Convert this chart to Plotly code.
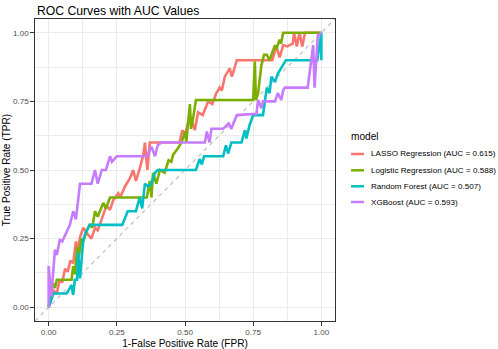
import plotly.graph_objects as go

# ---------------- data ----------------
model_names = [
    "LASSO Regression (AUC = 0.615)",
    "Logistic Regression (AUC = 0.588)",
    "Random Forest (AUC = 0.507)",
    "XGBoost (AUC = 0.593)",
]
model_colors = ["#F8766D", "#7CAE00", "#00BFC4", "#C77CFF"]

lasso_x = [0, 0.02, 0.03, 0.04, 0.05, 0.06, 0.07, 0.08, 0.09, 0.10, 0.105, 0.115, 0.127, 0.14,
           0.157, 0.17, 0.18, 0.194, 0.212, 0.225, 0.237, 0.255, 0.262, 0.28, 0.298, 0.31, 0.32,
           0.334, 0.347, 0.353, 0.362, 0.371, 0.48, 0.49, 0.50, 0.51, 0.518, 0.536, 0.548, 0.565,
           0.585, 0.60, 0.615, 0.627, 0.635, 0.646, 0.664, 0.672, 0.69, 0.82, 0.835, 0.847, 0.86,
           0.875, 0.895, 0.90, 0.91, 0.92, 0.93, 0.94, 1.0]
lasso_y = [0, 0.06, 0.05, 0.10, 0.09, 0.14, 0.13, 0.17, 0.16, 0.24, 0.20, 0.255, 0.29, 0.27,
           0.25, 0.29, 0.28, 0.32, 0.37, 0.355, 0.39, 0.415, 0.40, 0.44, 0.47, 0.50, 0.46,
           0.505, 0.555, 0.60, 0.50, 0.60, 0.60, 0.645, 0.63, 0.665, 0.70, 0.645, 0.71, 0.70,
           0.75, 0.74, 0.78, 0.80, 0.79, 0.84, 0.87, 0.84, 0.90, 0.90, 0.95, 0.91, 0.955,
           0.95, 0.96, 1.0, 0.95, 1.0, 0.95, 1.0, 1.0]

logit_x = [0, 0.005, 0.01, 0.017, 0.023, 0.03, 0.084, 0.09, 0.096, 0.105, 0.11, 0.12, 0.127,
           0.14, 0.15, 0.16, 0.17, 0.18, 0.20, 0.21, 0.225, 0.36, 0.371, 0.377, 0.383, 0.395,
           0.408, 0.425, 0.44, 0.45, 0.456, 0.475, 0.487, 0.50, 0.505, 0.51, 0.518, 0.522,
           0.53, 0.54, 0.75, 0.756, 0.76, 0.768, 0.78, 0.79, 0.80, 0.81, 0.83, 0.835, 0.847,
           0.852, 0.86, 1.0]
logit_y = [0, 0.04, 0.063, 0.087, 0.07, 0.10, 0.10, 0.15, 0.12, 0.22, 0.18, 0.25, 0.24,
           0.28, 0.30, 0.29, 0.35, 0.33, 0.38, 0.36, 0.40, 0.40, 0.46, 0.40, 0.49, 0.45,
           0.50, 0.49, 0.536, 0.53, 0.555, 0.58, 0.60, 0.64, 0.60, 0.66, 0.74, 0.65,
           0.69, 0.755, 0.755, 0.895, 0.755, 0.78, 0.88, 0.92, 0.92, 0.90, 0.955, 0.94, 0.975,
           0.96, 1.0, 1.0]

rf_x = [0, 0.017, 0.066, 0.084, 0.09, 0.096, 0.104, 0.108, 0.115, 0.127, 0.135, 0.151, 0.27,
        0.29, 0.32, 0.334, 0.343, 0.353, 0.365, 0.377, 0.39, 0.40, 0.54, 0.554, 0.562, 0.57,
        0.64, 0.65, 0.658, 0.67, 0.707, 0.72, 0.725, 0.737, 0.75, 0.786, 0.80, 0.81, 0.817,
        0.83, 0.84, 0.87, 0.985, 1.0, 1.0]
rf_y = [0, 0.05, 0.05, 0.08, 0.045, 0.10, 0.10, 0.20, 0.105, 0.245, 0.27, 0.30, 0.30,
        0.35, 0.35, 0.40, 0.36, 0.45, 0.44, 0.45, 0.49, 0.50, 0.50, 0.54, 0.52, 0.55,
        0.55, 0.59, 0.56, 0.60, 0.60, 0.645, 0.615, 0.664, 0.70, 0.70, 0.80, 0.78, 0.84,
        0.82, 0.85, 0.90, 0.90, 1.0, 0.90]

xgb_x = [0, 0, 0.01, 0.023, 0.03, 0.041, 0.05, 0.066, 0.078, 0.09, 0.10, 0.115, 0.157, 0.17,
         0.18, 0.195, 0.21, 0.225, 0.232, 0.25, 0.36, 0.377, 0.39, 0.40, 0.414, 0.573, 0.58,
         0.59, 0.597, 0.64, 0.66, 0.67, 0.69, 0.762, 0.768, 0.78, 0.786, 0.83, 0.84, 0.853,
         0.86, 0.866, 0.95, 0.97, 0.975, 0.987, 1.0]
xgb_y = [0, 0.15, 0.04, 0.21, 0.19, 0.245, 0.24, 0.275, 0.30, 0.35, 0.32, 0.45, 0.45, 0.50,
         0.45, 0.50, 0.50, 0.55, 0.53, 0.55, 0.55, 0.585, 0.55, 0.59, 0.60, 0.60, 0.64,
         0.60, 0.65, 0.65, 0.67, 0.65, 0.70, 0.705, 0.755, 0.725, 0.75, 0.75, 0.78, 0.755,
         0.79, 0.80, 0.80, 0.955, 0.80, 0.99, 1.0]

series_x = [lasso_x, logit_x, rf_x, xgb_x]
series_y = [lasso_y, logit_y, rf_y, xgb_y]

tick_vals = [0, 0.25, 0.5, 0.75, 1.0]
axis_range = [-0.05, 1.05]

# ---------------- layout constants ----------------
W, H = 498, 349
ML, MR, MT, MB = 35, 163, 19, 28
PW, PH = W - ML - MR, H - MT - MB
FONT = "Liberation Sans, Arial, Helvetica, sans-serif"


def px_x(px):
    return (px - ML) / PW


def px_y(py):
    return (H - MB - py) / PH


fig = go.Figure()

# reference diagonal
fig.add_trace(go.Scatter(
    x=axis_range, y=axis_range, mode="lines",
    line=dict(color="#BEBEBE", width=1.2, dash="4px,4px"),
    showlegend=False, hoverinfo="skip"))

for name, color, xs, ys in zip(model_names, model_colors, series_x, series_y):
    fig.add_trace(go.Scatter(
        x=xs, y=ys, mode="lines", name=name,
        line=dict(color=color, width=2.6),
        showlegend=False))

axis_common = dict(
    range=axis_range,
    tickvals=tick_vals,
    tickformat=".2f",
    automargin=False,
    showgrid=True, gridcolor="#EBEBEB", gridwidth=1,
    minor=dict(dtick=0.125, tick0=0, showgrid=True, gridcolor="#EBEBEB", gridwidth=0.5),
    zeroline=False,
    showline=True, linecolor="#333333", linewidth=1, mirror=True,
    ticks="outside", ticklen=3.7, tickwidth=1, tickcolor="#333333",
    tickfont=dict(family=FONT, size=8.1, color="#4D4D4D"),
)

fig.update_layout(
    width=W, height=H,
    margin=dict(l=ML, r=MR, t=MT, b=MB, pad=0, autoexpand=False),
    paper_bgcolor="white", plot_bgcolor="white",
    font=dict(family=FONT, color="black"),
    title=dict(text="ROC Curves with AUC Values", x=px_x(37), xref="paper", xanchor="left",
               y=1 - 10.5 / H, yref="container", yanchor="middle",
               font=dict(family=FONT, size=12.2, color="black")),
    xaxis=dict(axis_common, title=dict(text="1-False Positive Rate (FPR)", standoff=3,
                                       font=dict(family=FONT, size=10.1, color="black"))),
    yaxis=dict(axis_common, title=dict(text="True Positive Rate (TPR)", standoff=0,
                                       font=dict(family=FONT, size=10.1, color="black"))),
    showlegend=False,
)

# manual legend (ggplot-style short keys)
fig.add_annotation(text="model", x=px_x(349), y=px_y(136), xref="paper", yref="paper",
                   xanchor="left", yanchor="middle", showarrow=False,
                   font=dict(family=FONT, size=10.1, color="black"))
legend_rows = [154, 170.3, 186.3, 202]
for name, color, row in zip(model_names, model_colors, legend_rows):
    fig.add_shape(type="line", xref="paper", yref="paper",
                  x0=px_x(351), x1=px_x(364), y0=px_y(row), y1=px_y(row),
                  line=dict(color=color, width=2.5))
    fig.add_annotation(text=name, x=px_x(369), y=px_y(row), xref="paper", yref="paper",
                       xanchor="left", yanchor="middle", showarrow=False,
                       font=dict(family=FONT, size=8.1, color="black"))

fig.write_html("out.html", config={"displayModeBar": False},
               post_script="document.body.style.margin='0px';document.body.style.overflow='hidden';")
